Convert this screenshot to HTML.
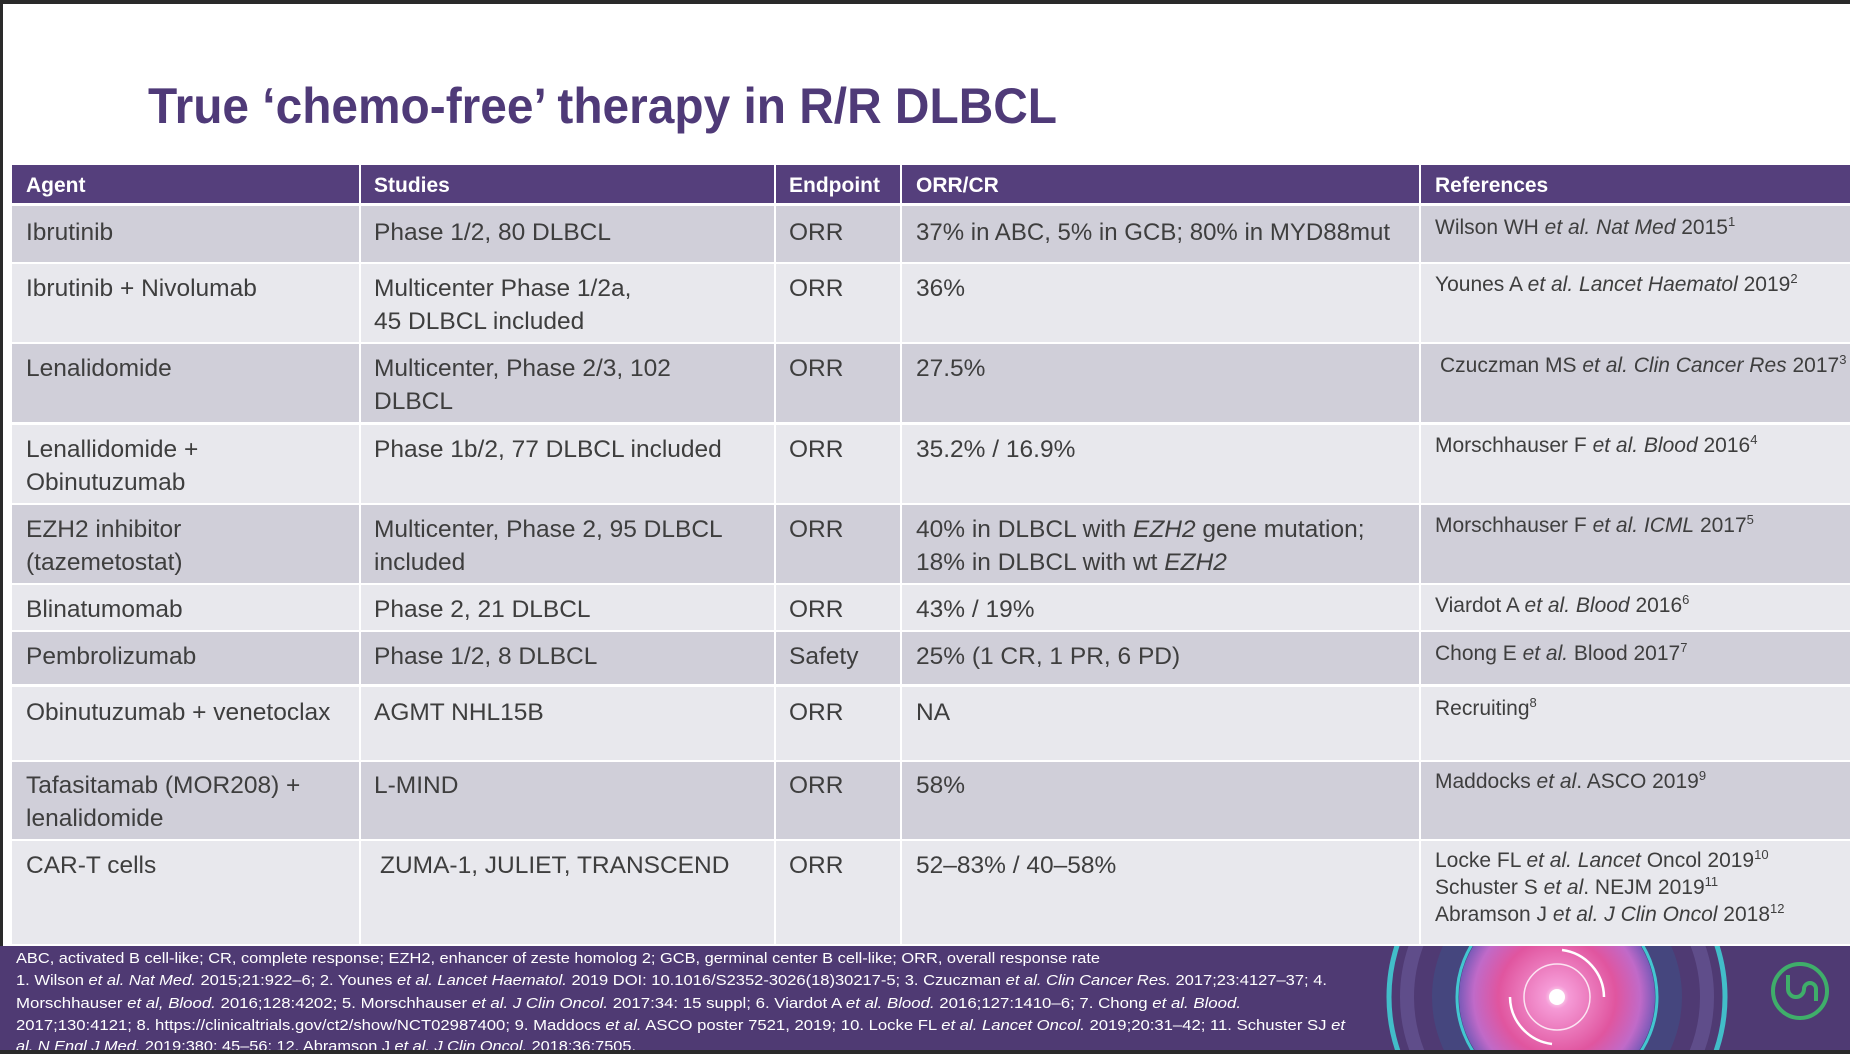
<!DOCTYPE html>
<html><head><meta charset="utf-8"><style>
html,body{margin:0;padding:0;background:#fff;width:1850px;height:1054px;overflow:hidden;}
svg{display:block;}
text{font-family:"Liberation Sans",sans-serif;}
.b{font-size:24.5px;fill:#3e3e3e;}
.r{font-size:21px;fill:#3e3e3e;}
.h{font-size:21px;fill:#fff;font-weight:bold;}
.f{font-size:15px;fill:#fff;}
</style></head><body>
<svg width="1850" height="1054" viewBox="0 0 1850 1054" xmlns="http://www.w3.org/2000/svg">
<rect x="0" y="0" width="1850" height="1054" fill="#fff"/>
<rect x="0" y="0" width="1850" height="4" fill="#2a2a2a"/>
<rect x="0" y="0" width="3" height="1054" fill="#2a2a2a"/>
<text x="148" y="123" font-size="50" font-weight="bold" fill="#4f3a78" textLength="909" lengthAdjust="spacingAndGlyphs">True ‘chemo-free’ therapy in R/R DLBCL</text>

<rect x="12" y="165" width="1838" height="38" fill="#553f7c"/>
<rect x="12" y="206" width="1838" height="56" fill="#d0cfd9"/>
<rect x="12" y="264" width="1838" height="78" fill="#e8e8ed"/>
<rect x="12" y="344" width="1838" height="78" fill="#d0cfd9"/>
<rect x="12" y="425" width="1838" height="78" fill="#e8e8ed"/>
<rect x="12" y="505" width="1838" height="78" fill="#d0cfd9"/>
<rect x="12" y="585" width="1838" height="45" fill="#e8e8ed"/>
<rect x="12" y="632" width="1838" height="52" fill="#d0cfd9"/>
<rect x="12" y="687" width="1838" height="73" fill="#e8e8ed"/>
<rect x="12" y="762" width="1838" height="77" fill="#d0cfd9"/>
<rect x="12" y="841" width="1838" height="103" fill="#e8e8ed"/>
<g fill="#fff">
<rect x="359" y="165" width="2" height="779"/>
<rect x="774" y="165" width="2" height="779"/>
<rect x="900" y="165" width="2" height="779"/>
<rect x="1419" y="165" width="2" height="779"/>
</g>

<text class="h" x="26" y="192">Agent</text>
<text class="h" x="374" y="192">Studies</text>
<text class="h" x="789" y="192">Endpoint</text>
<text class="h" x="916" y="192">ORR/CR</text>
<text class="h" x="1435" y="192">References</text>

<g class="b">
<text x="26" y="240">Ibrutinib</text>
<text x="26" y="296">Ibrutinib + Nivolumab</text>
<text x="26" y="376">Lenalidomide</text>
<text x="26" y="457">Lenallidomide +</text>
<text x="26" y="490">Obinutuzumab</text>
<text x="26" y="537">EZH2 inhibitor</text>
<text x="26" y="570">(tazemetostat)</text>
<text x="26" y="617">Blinatumomab</text>
<text x="26" y="664">Pembrolizumab</text>
<text x="26" y="720">Obinutuzumab + venetoclax</text>
<text x="26" y="793">Tafasitamab (MOR208) +</text>
<text x="26" y="826">lenalidomide</text>
<text x="26" y="873">CAR-T cells</text>
</g>
<g class="b">
<text x="374" y="240">Phase 1/2, 80 DLBCL</text>
<text x="374" y="296">Multicenter Phase 1/2a,</text>
<text x="374" y="329">45 DLBCL included</text>
<text x="374" y="376">Multicenter, Phase 2/3, 102</text>
<text x="374" y="409">DLBCL</text>
<text x="374" y="457">Phase 1b/2, 77 DLBCL included</text>
<text x="374" y="537">Multicenter, Phase 2, 95 DLBCL</text>
<text x="374" y="570">included</text>
<text x="374" y="617">Phase 2, 21 DLBCL</text>
<text x="374" y="664">Phase 1/2, 8 DLBCL</text>
<text x="374" y="720">AGMT NHL15B</text>
<text x="374" y="793">L-MIND</text>
<text x="380" y="873">ZUMA-1, JULIET, TRANSCEND</text>
</g>
<g class="b">
<text x="789" y="240">ORR</text>
<text x="789" y="296">ORR</text>
<text x="789" y="376">ORR</text>
<text x="789" y="457">ORR</text>
<text x="789" y="537">ORR</text>
<text x="789" y="617">ORR</text>
<text x="789" y="664">Safety</text>
<text x="789" y="720">ORR</text>
<text x="789" y="793">ORR</text>
<text x="789" y="873">ORR</text>
</g>
<g class="b">
<text x="916" y="240" textLength="474" lengthAdjust="spacingAndGlyphs">37% in ABC, 5% in GCB; 80% in MYD88mut</text>
<text x="916" y="296">36%</text>
<text x="916" y="376">27.5%</text>
<text x="916" y="457">35.2% / 16.9%</text>
<text x="916" y="537">40% in DLBCL with <tspan font-style="italic">EZH2</tspan> gene mutation;</text>
<text x="916" y="570">18% in DLBCL with wt <tspan font-style="italic">EZH2</tspan></text>
<text x="916" y="617">43% / 19%</text>
<text x="916" y="664">25% (1 CR, 1 PR, 6 PD)</text>
<text x="916" y="720">NA</text>
<text x="916" y="793">58%</text>
<text x="916" y="873">52–83% / 40–58%</text>
</g>
<g class="r">
<text x="1435" y="234">Wilson WH <tspan font-style="italic">et al. Nat Med</tspan> 2015<tspan font-size="13" dy="-8">1</tspan></text>
<text x="1435" y="291">Younes A <tspan font-style="italic">et al. Lancet Haematol</tspan> 2019<tspan font-size="13" dy="-8">2</tspan></text>
<text x="1440" y="372">Czuczman MS <tspan font-style="italic">et al. Clin Cancer Res</tspan> 2017<tspan font-size="13" dy="-8">3</tspan></text>
<text x="1435" y="452">Morschhauser F <tspan font-style="italic">et al. Blood</tspan> 2016<tspan font-size="13" dy="-8">4</tspan></text>
<text x="1435" y="532">Morschhauser F <tspan font-style="italic">et al. ICML</tspan> 2017<tspan font-size="13" dy="-8">5</tspan></text>
<text x="1435" y="612">Viardot A <tspan font-style="italic">et al. Blood</tspan> 2016<tspan font-size="13" dy="-8">6</tspan></text>
<text x="1435" y="660">Chong E <tspan font-style="italic">et al.</tspan> Blood 2017<tspan font-size="13" dy="-8">7</tspan></text>
<text x="1435" y="715">Recruiting<tspan font-size="13" dy="-8">8</tspan></text>
<text x="1435" y="788">Maddocks <tspan font-style="italic">et al</tspan>. ASCO 2019<tspan font-size="13" dy="-8">9</tspan></text>
<text x="1435" y="867">Locke FL <tspan font-style="italic">et al. Lancet</tspan> Oncol 2019<tspan font-size="13" dy="-8">10</tspan></text>
<text x="1435" y="894">Schuster S <tspan font-style="italic">et al</tspan>. NEJM 2019<tspan font-size="13" dy="-8">11</tspan></text>
<text x="1435" y="921">Abramson J <tspan font-style="italic">et al. J Clin Oncol</tspan> 2018<tspan font-size="13" dy="-8">12</tspan></text>
</g>

<rect x="0" y="946" width="1850" height="104" fill="#4f3a73"/>
<defs>
<radialGradient id="pk" cx="50%" cy="50%" r="50%">
<stop offset="0" stop-color="#ffffff"/>
<stop offset="0.12" stop-color="#f59ad6"/>
<stop offset="0.6" stop-color="#e0559f"/>
<stop offset="0.85" stop-color="#c06ac8"/>
<stop offset="1" stop-color="#7a5ab8"/>
</radialGradient>
<clipPath id="fc"><rect x="0" y="946" width="1850" height="104"/></clipPath>
</defs>
<g clip-path="url(#fc)">
<circle cx="1557" cy="997" r="168" fill="none" stroke="#3fd5d8" stroke-width="5" opacity="0.85"/>
<circle cx="1557" cy="997" r="150" fill="none" stroke="#6a5a9a" stroke-width="14" opacity="0.6"/>
<circle cx="1557" cy="997" r="125" fill="#3f4f86" opacity="0.6"/>
<circle cx="1557" cy="997" r="98" fill="url(#pk)"/>
<circle cx="1557" cy="997" r="100" fill="none" stroke="#43c6d0" stroke-width="3"/>
<circle cx="1557" cy="997" r="33" fill="none" stroke="#fff" stroke-width="1.5" opacity="0.8"/>
<circle cx="1557" cy="997" r="8" fill="#fff"/>
<path d="M1562 950 A48 48 0 0 1 1604 997" fill="none" stroke="#fff" stroke-width="2.5"/>
<path d="M1510 997 A48 48 0 0 0 1552 1044" fill="none" stroke="#fff" stroke-width="2.5"/>
</g>
<circle cx="1800" cy="991" r="27" fill="none" stroke="#3fae6a" stroke-width="4"/>
<path d="M1788 975 v14 a8 8 0 0 0 16 0 a6 6 0 0 1 12 0 v12" fill="none" stroke="#3fae6a" stroke-width="4"/>

<g class="f">
<text x="16" y="963" textLength="1084" lengthAdjust="spacingAndGlyphs">ABC, activated B cell-like; CR, complete response; EZH2, enhancer of zeste homolog 2; GCB, germinal center B cell-like; ORR, overall response rate</text>
<text x="16" y="985" textLength="1311" lengthAdjust="spacingAndGlyphs">1. Wilson <tspan font-style="italic">et al. Nat Med.</tspan> 2015;21:922–6; 2. Younes <tspan font-style="italic">et al. Lancet Haematol.</tspan> 2019 DOI: 10.1016/S2352-3026(18)30217-5; 3. Czuczman <tspan font-style="italic">et al. Clin Cancer Res.</tspan> 2017;23:4127–37; 4.</text>
<text x="16" y="1008" textLength="1225" lengthAdjust="spacingAndGlyphs">Morschhauser  <tspan font-style="italic">et al, Blood.</tspan> 2016;128:4202; 5. Morschhauser  <tspan font-style="italic">et al. J Clin Oncol.</tspan> 2017:34: 15 suppl; 6. Viardot A <tspan font-style="italic">et al. Blood.</tspan> 2016;127:1410–6;  7. Chong <tspan font-style="italic">et al. Blood.</tspan></text>
<text x="16" y="1030" textLength="1329" lengthAdjust="spacingAndGlyphs">2017;130:4121; 8. https://clinicaltrials.gov/ct2/show/NCT02987400; 9. Maddocs <tspan font-style="italic">et al.</tspan> ASCO poster 7521, 2019; 10. Locke FL <tspan font-style="italic">et al. Lancet Oncol.</tspan> 2019;20:31–42; 11. Schuster SJ <tspan font-style="italic">et</tspan></text>
<text x="16" y="1051" textLength="620" lengthAdjust="spacingAndGlyphs"><tspan font-style="italic">al. N Engl J Med.</tspan> 2019;380: 45–56; 12. Abramson J <tspan font-style="italic">et al. J Clin Oncol.</tspan> 2018;36:7505.</text>
</g>
<rect x="0" y="1050" width="1850" height="4" fill="#2a2a2a"/>
</svg>
</body></html>
